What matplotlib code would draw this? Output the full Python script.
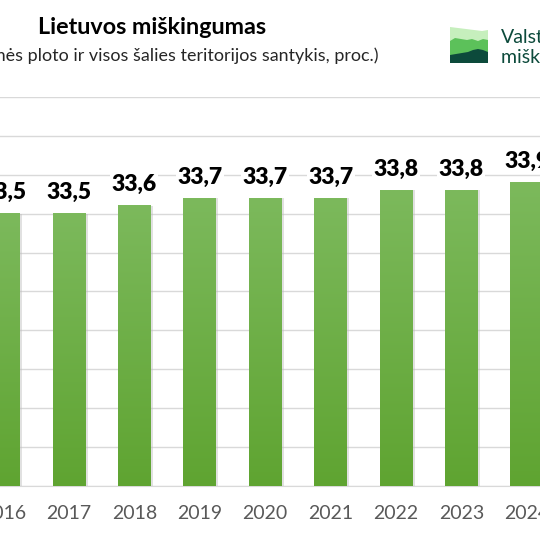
import numpy as np
import matplotlib
matplotlib.use("Agg")
import matplotlib.pyplot as plt
from matplotlib.patches import Polygon
from matplotlib.colors import LinearSegmentedColormap

years = ["2016", "2017", "2018", "2019", "2020", "2021", "2022", "2023", "2024"]
values = [33.5, 33.5, 33.6, 33.7, 33.7, 33.7, 33.8, 33.8, 33.9]
title = "Lietuvos miškingumas"
subtitle = "(Miško žemės ploto ir visos šalies teritorijos santykis, proc.)"

plt.rcParams['font.family'] = ['Lato', 'DejaVu Sans']

W = H = 540
fig = plt.figure(figsize=(5.4, 5.4), dpi=100)
fig.patch.set_facecolor('white')

# plot axes: baseline at px 486, top gridline (35) at px 97
ax = fig.add_axes([0, (W - 486) / H, 1, 389 / H])
x = np.arange(len(years))
bw = 0.5
ymin, ymax = 30, 35

# soft shadow
ax.bar(x + 0.035, values, width=bw, color='#bdbdbd', alpha=0.45, zorder=2.5)
bars = ax.bar(x, values, width=bw, color='#6aad45', zorder=3)

grad = np.linspace(0, 1, 256).reshape(-1, 1)
cmap = LinearSegmentedColormap.from_list('g', ['#5fa431', '#7cb95c'])
for b in bars:
    x0 = b.get_x()
    x1 = x0 + b.get_width()
    top = b.get_height()
    ax.imshow(grad, extent=(x0, x1, ymin, top), origin='lower', aspect='auto',
              cmap=cmap, zorder=3.2)

for xi, v in zip(x, values):
    ax.annotate(f"{v:.1f}".replace('.', ','), (xi, v), xytext=(0, 10.5),
                textcoords='offset points', ha='center', va='baseline',
                fontsize=16.5, fontweight='heavy', color='black', zorder=5,
                bbox=dict(fc='white', ec='none', pad=1))

step = 65.4
ax.set_xlim(-3.6 / step, (W - 3.6) / step)
ax.set_ylim(ymin, ymax)
ax.set_yticks(np.arange(ymin, ymax + 0.01, 0.5))
ax.set_yticklabels([])
ax.grid(axis='y', color='#d9d9d9', lw=1, zorder=0)
ax.set_xticks(x, years)
ax.tick_params(axis='x', length=0, pad=14, labelsize=14, labelcolor='#595959')
ax.tick_params(axis='y', length=0)
for s in ['top', 'left', 'right']:
    ax.spines[s].set_visible(False)
ax.spines['bottom'].set_color('#d9d9d9')
ax.set_facecolor('white')

# overlay for title and logo
ov = fig.add_axes([0, 0, 1, 1], zorder=10)
ov.set_xlim(0, W)
ov.set_ylim(H, 0)
ov.axis('off')
ov.patch.set_alpha(0)

ov.text(152, 27, title, ha='center', va='center', fontsize=16.8,
        fontweight='bold', color='black')
ov.text(378, 56, subtitle, ha='right', va='center', fontsize=12.9,
        color='#262626')

# logo
lx0, lx1, ly1 = 450, 488, 63
light = [(450, 27), (458, 28), (466, 29), (474, 30), (482, 31), (488, 30)]
mid = [(450, 41), (455, 38), (461, 39), (467, 40), (472, 39), (478, 41), (483, 39), (488, 40)]
dark = [(450, 55), (456, 54), (462, 53), (468, 52), (473, 50), (478, 49), (483, 50), (488, 52)]
for pts, col in [(light, '#c6efbd'), (mid, '#5cc15a'), (dark, '#0c4a3b')]:
    poly = pts + [(lx1, ly1), (lx0, ly1)]
    ov.add_patch(Polygon(poly, closed=True, fc=col, ec='none'))
ov.text(501, 37, "Valstybinių", ha='left', va='center', fontsize=14, color='#0c4a3b')
ov.text(501, 57, "miškų urėdija", ha='left', va='center', fontsize=14, color='#0c4a3b')

fig.savefig('out.png', dpi=100, facecolor='white')
